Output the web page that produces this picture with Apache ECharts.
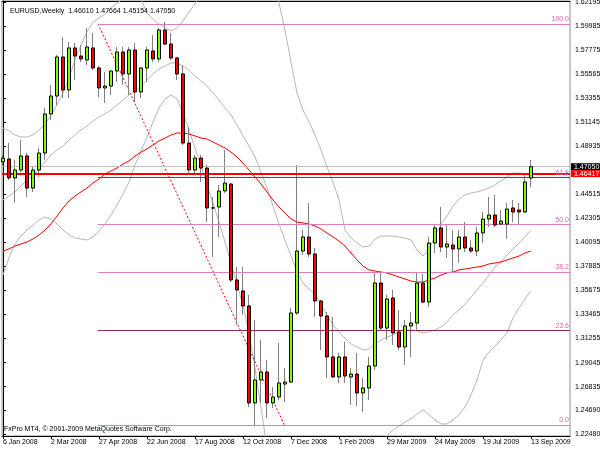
<!DOCTYPE html>
<html>
<head>
<meta charset="utf-8">
<script src="https://cdn.jsdelivr.net/npm/echarts/dist/echarts.min.js"></script>
<style>
html,body{margin:0;padding:0;background:#fff;}
#chart{width:600px;height:449px;}
</style>
</head>
<body>
<div id="chart"></div>
<script>
// ---- Data (weekly EURUSD, week index 0 = week of 6 Jan 2008) ----
const weekLabels = ['6 Jan 2008','2 Mar 2008','27 Apr 2008','22 Jun 2008','17 Aug 2008','12 Oct 2008','7 Dec 2008','1 Feb 2009','29 Mar 2009','24 May 2009','19 Jul 2009','13 Sep 2009'];
const labelWeeks = [0, 8, 16, 24, 32, 40, 48, 56, 64, 72, 80, 88];

const opens = [1.4749,1.4776,1.4602,1.4675,1.4804,1.4509,1.4675,1.4831,1.5190,1.5355,
1.5714,1.5411,1.5797,1.5723,1.5686,1.5797,1.5613,1.5429,1.5447,1.5585,
1.5760,1.5558,1.5778,1.5392,1.5613,1.5769,1.5696,1.5962,1.5833,1.5705,
1.5558,1.4923,1.4675,1.4785,1.4693,1.4326,1.4335,1.4482,1.4546,1.3664,
1.3563,1.3425,1.2533,1.2744,1.2818,1.2533,1.2588,1.2707,1.2726,1.3360,
1.3930,1.4059,1.3903,1.3471,1.3333,1.2956,1.2772,1.2956,1.2772,1.2799,
1.2625,1.2671,1.2873,1.3636,1.3222,1.3498,1.3186,1.3048,1.3241,1.3268,
1.3636,1.3461,1.4004,1.4142,1.3967,1.3985,1.3949,1.4059,1.3958,1.3930,
1.4096,1.4224,1.4261,1.4178,1.4178,1.4326,1.4307,1.4289,1.46010];

const highs = [1.4813,1.4923,1.4767,1.4951,1.4831,1.4703,1.4877,1.5245,1.5456,1.5732,
1.5898,1.5852,1.5843,1.5824,1.5980,1.5935,1.5631,1.5576,1.5594,1.5806,
1.5806,1.5806,1.5843,1.5622,1.5806,1.5916,1.5980,1.6036,1.5935,1.5714,
1.5640,1.5070,1.4813,1.4813,1.4721,1.4427,1.4537,1.4859,1.4555,1.3783,
1.3783,1.3526,1.3296,1.3112,1.2928,1.2680,1.3085,1.2855,1.3406,1.4721,
1.4123,1.4372,1.3958,1.3480,1.3370,1.3323,1.2993,1.3094,1.2855,1.2993,
1.2763,1.2956,1.3728,1.3728,1.3526,1.3572,1.3388,1.3296,1.3370,1.3728,
1.3719,1.4059,1.4169,1.4335,1.4169,1.4123,1.4123,1.4197,1.4031,1.4151,
1.4289,1.4427,1.4445,1.4307,1.4372,1.4399,1.4372,1.4629,1.47664];

const lows = [1.4712,1.4583,1.4372,1.4657,1.4427,1.4473,1.4611,1.4767,1.5135,1.5273,
1.5337,1.5337,1.5502,1.5668,1.5640,1.5594,1.5346,1.5291,1.5365,1.5484,
1.5456,1.5365,1.5300,1.5337,1.5484,1.5668,1.5668,1.5824,1.5686,1.5502,
1.4905,1.4647,1.4629,1.4565,1.4197,1.3875,1.4059,1.4464,1.3645,1.3250,
1.3342,1.2496,1.2330,1.2533,1.2395,1.2487,1.2560,1.2542,1.2717,1.3342,
1.3894,1.3875,1.3324,1.3020,1.2763,1.2763,1.2717,1.2717,1.2514,1.2505,
1.2450,1.2560,1.2836,1.3204,1.3112,1.3066,1.3020,1.2882,1.2956,1.3204,
1.3452,1.3415,1.3912,1.3921,1.3866,1.3737,1.3820,1.3921,1.3912,1.3884,
1.4004,1.4151,1.4151,1.4169,1.4041,1.4197,1.4178,1.4280,1.45154];

const closes = [1.4785,1.4602,1.4675,1.4804,1.4509,1.4675,1.4831,1.5190,1.5355,1.5714,
1.5411,1.5797,1.5723,1.5696,1.5806,1.5613,1.5429,1.5447,1.5585,1.5760,
1.5558,1.5778,1.5392,1.5613,1.5778,1.5696,1.5962,1.5833,1.5705,1.5558,
1.4923,1.4675,1.4785,1.4693,1.4326,1.4326,1.4482,1.4555,1.3664,1.3572,
1.3425,1.2533,1.2744,1.2818,1.2533,1.2588,1.2717,1.2726,1.3360,1.3930,
1.4059,1.3903,1.3471,1.3333,1.2956,1.2772,1.2956,1.2781,1.2799,1.2625,
1.2671,1.2873,1.3636,1.3222,1.3489,1.3177,1.3048,1.3241,1.3268,1.3636,
1.3461,1.4004,1.4142,1.3967,1.3995,1.3949,1.4059,1.3958,1.3930,1.4096,
1.4224,1.4261,1.4169,1.4206,1.4316,1.4289,1.4289,1.4565,1.47050];

const bbUpper = [1.5061,1.5034,1.4997,1.4978,1.4978,1.4997,1.5043,1.5098,1.5181,1.5273,
1.5383,1.5521,1.5686,1.5824,1.5944,1.6036,1.6072,1.6109,1.6164,1.6210,
1.6247,1.6265,1.6265,1.6247,1.6118,1.6063,1.6017,1.5981,1.5953,1.5981,
1.6045,1.6128,1.6201,1.6284,1.6376,1.6495,1.6606,1.6716,1.6808,1.6900,
1.6973,1.7019,1.7019,1.6927,1.6762,1.6486,1.6210,1.5962,1.5668,1.5383,
1.5227,1.5116,1.4997,1.4859,1.4703,1.4565,1.4399,1.4123,1.4050,1.4004,
1.3967,1.3976,1.4041,1.4068,1.4068,1.4068,1.4059,1.4050,1.4031,1.3940,
1.3884,1.3940,1.4068,1.4179,1.4252,1.4344,1.4408,1.4445,1.4464,1.4473,
1.4491,1.4510,1.4537,1.4574,1.4611,1.4647,1.4647,1.4638,1.4620];

const bbMiddle = [1.4399,1.4436,1.4473,1.4528,1.4583,1.4629,1.4684,1.4749,1.4813,1.4859,
1.4896,1.4951,1.4997,1.5043,1.5080,1.5126,1.5162,1.5190,1.5227,1.5273,
1.5319,1.5365,1.5401,1.5447,1.5502,1.5558,1.5604,1.5631,1.5659,1.5659,
1.5631,1.5594,1.5539,1.5493,1.5447,1.5383,1.5319,1.5245,1.5181,1.5089,
1.4988,1.4896,1.4795,1.4657,1.4510,1.4344,1.4179,1.4031,1.3884,1.3737,
1.3636,1.3581,1.3535,1.3434,1.3342,1.3250,1.3186,1.3130,1.3075,1.3048,
1.3020,1.3029,1.3075,1.3112,1.3140,1.3158,1.3195,1.3204,1.3204,1.3195,
1.3177,1.3186,1.3204,1.3232,1.3278,1.3342,1.3388,1.3443,1.3507,1.3572,
1.3636,1.3710,1.3783,1.3829,1.3894,1.3949,1.4004,1.4059,1.4123];

const bbLower = [1.3710,1.3866,1.3995,1.4068,1.4123,1.4169,1.4215,1.4243,1.4225,1.4179,
1.4123,1.4077,1.4050,1.4041,1.4031,1.4059,1.4114,1.4179,1.4261,1.4353,
1.4454,1.4565,1.4721,1.4850,1.4978,1.5116,1.5245,1.5328,1.5365,1.5328,
1.5199,1.5043,1.4877,1.4712,1.4537,1.4372,1.4197,1.4013,1.3820,1.3618,
1.3434,1.3177,1.2855,1.2496,1.2119,1.1917,1.1779,1.1687,1.1641,1.1641,
1.1659,1.1687,1.1715,1.1733,1.1751,1.1779,1.1825,1.1871,1.1917,1.1963,
1.2009,1.2055,1.2101,1.2165,1.2229,1.2285,1.2321,1.2358,1.2386,1.2432,
1.2469,1.2423,1.2377,1.2340,1.2340,1.2377,1.2423,1.2496,1.2606,1.2744,
1.2928,1.3002,1.3057,1.3112,1.3177,1.3314,1.3406,1.3489,1.3563];

const maRed = [1.3930,1.3949,1.3976,1.3995,1.4013,1.4041,1.4077,1.4123,1.4179,1.4252,
1.4326,1.4390,1.4436,1.4473,1.4510,1.4556,1.4592,1.4638,1.4666,1.4693,
1.4730,1.4758,1.4804,1.4840,1.4868,1.4905,1.4942,1.4969,1.4997,1.5015,
1.5015,1.5006,1.4988,1.4969,1.4960,1.4932,1.4905,1.4877,1.4840,1.4795,
1.4739,1.4675,1.4611,1.4546,1.4473,1.4399,1.4335,1.4280,1.4225,1.4197,
1.4188,1.4179,1.4160,1.4133,1.4096,1.4059,1.4022,1.3976,1.3912,1.3848,
1.3792,1.3756,1.3746,1.3737,1.3728,1.3710,1.3691,1.3673,1.3654,1.3645,
1.3645,1.3664,1.3682,1.3710,1.3728,1.3737,1.3756,1.3765,1.3774,1.3783,
1.3792,1.3811,1.3820,1.3829,1.3848,1.3866,1.3884,1.3912,1.3930];

const yTickValues = [1.62195,1.59985,1.57775,1.55565,1.53355,1.51145,1.48935,1.44515,1.42305,1.40095,1.37885,1.35675,1.33465,1.31255,1.29045,1.26835,1.24690,1.22480];

const fibNames  = ['100.0','61.8','50.0','38.2','23.6','0.0'];
const fibPrices = [1.6019, 1.4610, 1.4175, 1.3739, 1.3201, 1.2330];
const fibStartWeek = 15.83;
const trendEndWeek = 46.9;
const bidPrice = 1.47050;
const redLinePrice = 1.46417;

// ---- Layout / scale ----
const xMin = -0.167, xMax = 94.5;
const yMin = 1.22294, yMax = 1.62287;
const FONT = '"Liberation Sans", Arial, sans-serif';
const PINK = '#E07DBE', DARKMAG = '#9A226C', FIBTXT = '#DD66AA';
const BBGRAY = '#B6B6B6';

const wickData = opens.map((o, i) => [i, o, closes[i], lows[i], highs[i]]);
const bodyData = opens.map((o, i) => [i, o, closes[i], Math.min(o, closes[i]), Math.max(o, closes[i])]);
const toXY = arr => arr.map((v, i) => [i, v]);

const last = opens.length - 1;
const titleText = 'EURUSD,Weekly  ' + opens[last].toFixed(5) + ' ' + highs[last].toFixed(5) + ' ' + lows[last].toFixed(5) + ' ' + closes[last].toFixed(5);

const fibMarkData = fibNames.map((nm, i) => {
  const c = (nm === '61.8' || nm === '23.6') ? DARKMAG : PINK;
  return [
    { name: nm, coord: [fibStartWeek, fibPrices[i]], lineStyle: { color: c, width: 1, type: 'solid' },
      label: { show: true, position: 'insideEndTop', formatter: '{b}', color: FIBTXT, fontSize: 7, fontFamily: FONT, distance: [1, 1] } },
    { coord: [xMax, fibPrices[i]] }
  ];
});
const priceBoxLabel = (txt, bg) => ({ show: true, position: 'end', formatter: txt, color: '#fff', backgroundColor: bg,
  fontSize: 7, fontFamily: FONT, padding: [0, 2, 0, 3], lineHeight: 7, distance: 1 });
const hLineData = [
  [ { name: 'bid', coord: [xMin, bidPrice], lineStyle: { color: '#C0C0C0', width: 1, type: 'solid' }, label: priceBoxLabel(bidPrice.toFixed(5), '#000') },
    { coord: [xMax, bidPrice] } ],
  [ { name: 'level', coord: [xMin, redLinePrice], lineStyle: { color: '#FF0000', width: 2, type: 'solid' }, label: priceBoxLabel(redLinePrice.toFixed(5), '#FF0000') },
    { coord: [xMax, redLinePrice] } ]
];

const chart = echarts.init(document.getElementById('chart'), null, { renderer: 'canvas' });
const option = {
  animation: false,
  backgroundColor: '#ffffff',
  textStyle: { fontFamily: FONT },
  title: { text: titleText, left: 5, top: 3, textStyle: { fontSize: 7, fontWeight: 'normal', color: '#000', fontFamily: FONT } },
  grid: { left: 2, right: 30, top: 1, bottom: 13, containLabel: false, outerBoundsMode: 'none',
          show: true, borderColor: '#909090', borderWidth: 1, backgroundColor: 'transparent' },
  xAxis: [
    { type: 'value', position: 'bottom', min: xMin, max: xMax,
      axisLine: { show: true, onZero: false, lineStyle: { color: '#000', width: 1 } },
      axisTick: { show: true, length: 3, customValues: labelWeeks, lineStyle: { color: '#000' } },
      axisLabel: { show: true, customValues: labelWeeks, formatter: v => weekLabels[labelWeeks.indexOf(Math.round(v))] || '',
                   align: 'left', fontSize: 7, color: '#000', margin: 3, fontFamily: FONT },
      splitLine: { show: false } },
    { type: 'value', position: 'top', min: xMin, max: xMax,
      axisLine: { show: true, onZero: false, lineStyle: { color: '#000', width: 1 } },
      axisTick: { show: false }, axisLabel: { show: false }, splitLine: { show: false } }
  ],
  yAxis: {
    type: 'value', position: 'right', min: yMin, max: yMax,
    axisLine: { show: true, lineStyle: { color: '#000', width: 1 } },
    axisTick: { show: true, length: 3, customValues: yTickValues, lineStyle: { color: '#000' } },
    axisLabel: { show: true, customValues: yTickValues, formatter: v => v.toFixed(5), fontSize: 7, color: '#000', margin: 5, fontFamily: FONT },
    splitLine: { show: false }
  },
  series: [
    { name: 'BB upper', type: 'line', xAxisIndex: 0, data: toXY(bbUpper), symbol: 'none', silent: true, z: 2,
      lineStyle: { color: BBGRAY, width: 1 } },
    { name: 'BB middle', type: 'line', xAxisIndex: 0, data: toXY(bbMiddle), symbol: 'none', silent: true, z: 2,
      lineStyle: { color: BBGRAY, width: 1 } },
    { name: 'BB lower', type: 'line', xAxisIndex: 0, data: toXY(bbLower), symbol: 'none', silent: true, z: 2,
      lineStyle: { color: BBGRAY, width: 1 } },
    { name: 'MA', type: 'line', xAxisIndex: 0, data: toXY(maRed), symbol: 'none', silent: true, z: 3,
      lineStyle: { color: '#FF0000', width: 1 } },
    { name: 'Fibo', type: 'line', xAxisIndex: 0, data: [[fibStartWeek, fibPrices[0]], [trendEndWeek, fibPrices[5]]],
      symbol: 'none', silent: true, z: 3, lineStyle: { color: '#FF0000', width: 1, type: [2, 2] },
      markLine: { silent: true, symbol: ['none', 'none'], animation: false, precision: 5,
                  data: fibMarkData.concat(hLineData) } },
    { name: 'wicks', type: 'candlestick', xAxisIndex: 0, data: wickData, barWidth: 1, silent: true, z: 4,
      itemStyle: { color: '#808080', color0: '#808080', borderColor: '#808080', borderColor0: '#808080', borderWidth: 1 } },
    { name: 'bodies', type: 'candlestick', xAxisIndex: 0, data: bodyData, barWidth: 4, silent: true, z: 5,
      itemStyle: { color: '#7FFF00', color0: '#FF0000', borderColor: '#000', borderColor0: '#000', borderWidth: 1 } }
  ],
  graphic: [
    { type: 'text', left: 4, top: 426, silent: true,
      style: { text: 'FxPro MT4, © 2001-2009 MetaQuotes Software Corp.', fill: '#000', fontSize: 7, fontFamily: FONT } }
  ]
};
chart.setOption(option);
</script>
</body>
</html>
